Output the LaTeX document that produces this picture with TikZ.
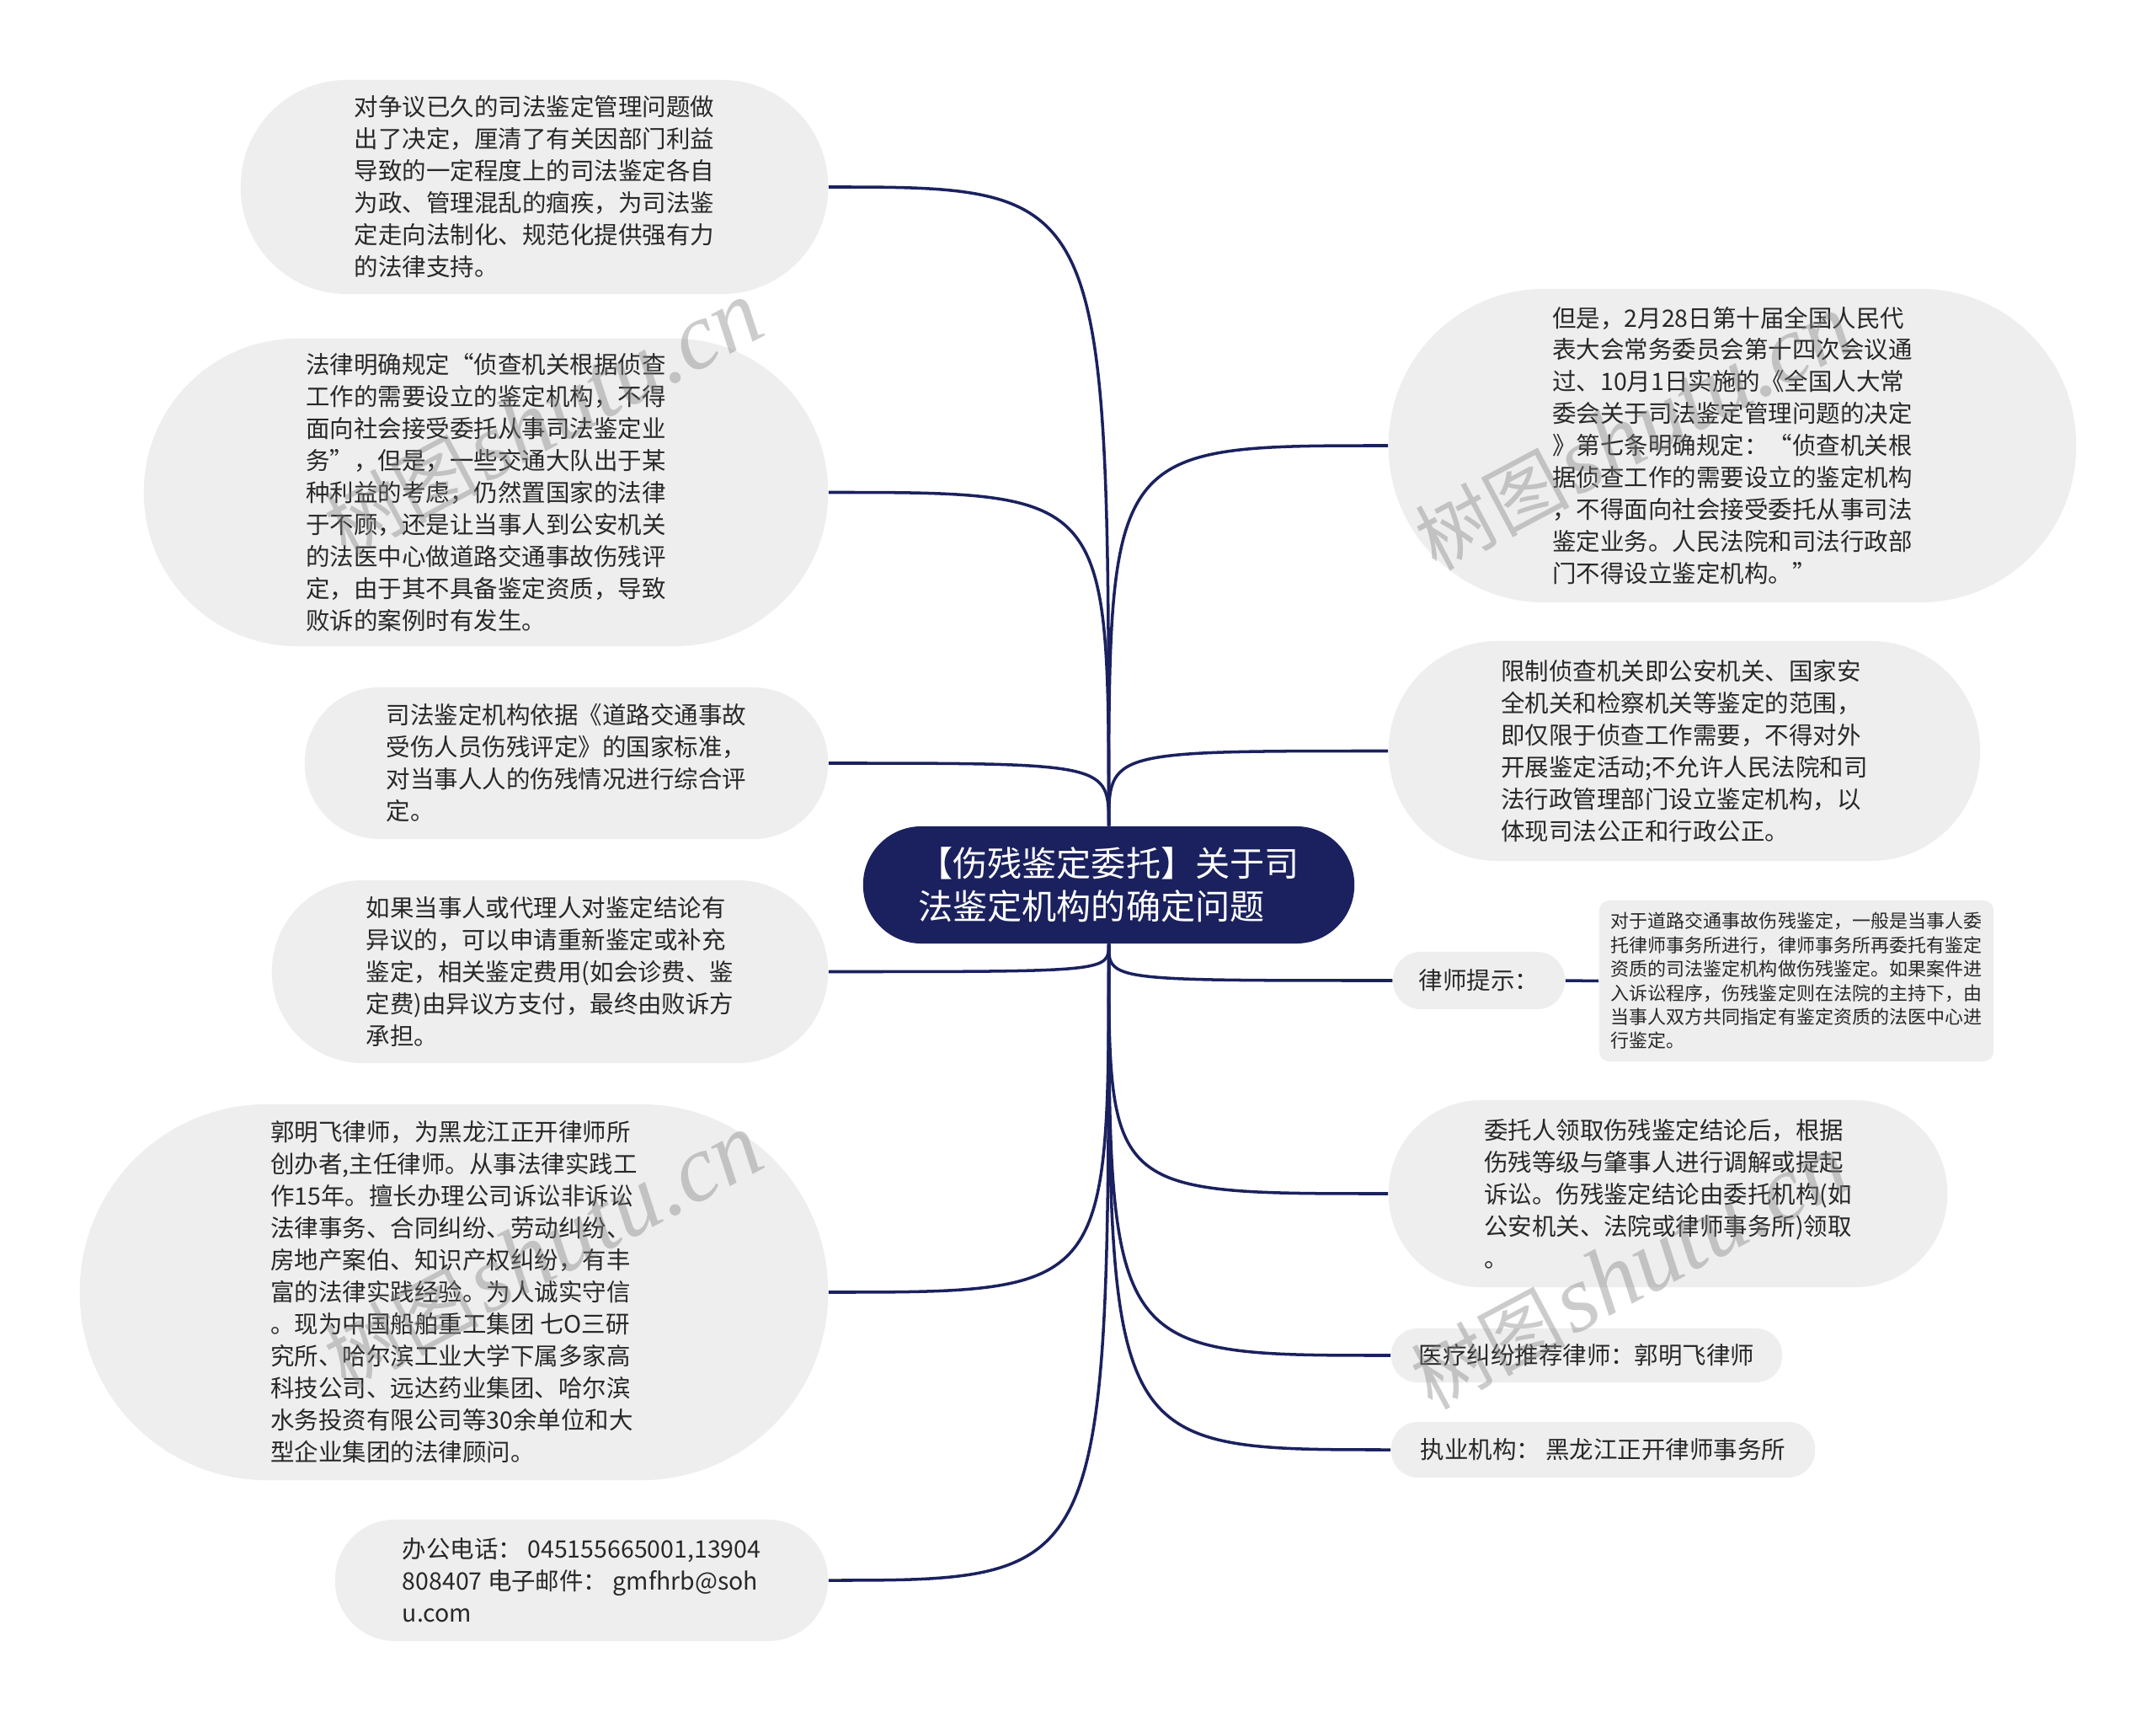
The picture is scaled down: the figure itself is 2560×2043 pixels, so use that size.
\documentclass[tikz,border=0pt]{standalone}
\usepackage{fontspec}
\setmainfont{Noto Sans CJK SC}
\newfontfamily\wmfont{Liberation Serif}
\definecolor{navy}{RGB}{27,33,94}
\definecolor{nodegray}{RGB}{238,238,238}
\definecolor{txt}{RGB}{40,40,40}
\begin{document}
\begin{tikzpicture}[x=0.01cm,y=-0.01cm,
  bubble/.style={fill=nodegray, text=txt, inner sep=0pt, align=left,
    font=\fontsize{8.1pt}{10.8pt}\selectfont},
  rootnode/.style={fill=navy, text=white, inner sep=0pt, align=left,
    font=\fontsize{11.7pt}{14.5pt}\selectfont},
  tipnode/.style={fill=nodegray, text=txt, inner sep=0pt, align=left,
    rounded corners=0.12cm, font=\fontsize{6.26pt}{8.08pt}\selectfont},
  link/.style={draw=navy, line width=1pt},
  wmark/.style={text=black!50, opacity=0.4, rotate=28, inner sep=0pt}]
\useasboundingbox[fill=white] (0,0) rectangle (2560,2043);

% root
\node[rootnode, minimum width=5.83cm, minimum height=1.39cm, rounded corners=0.69cm] (root) at (1316.5,1050.5)
  {【伤残鉴定委托】关于司\\法鉴定机构的确定问题};

% left nodes
\node[bubble, minimum width=6.97cm, minimum height=2.54cm, rounded corners=1.26cm] (L1) at (634.5,222)
  {对争议已久的司法鉴定管理问题做\\出了决定，厘清了有关因部门利益\\导致的一定程度上的司法鉴定各自\\为政、管理混乱的痼疾，为司法鉴\\定走向法制化、规范化提供强有力\\的法律支持。};
\node[bubble, minimum width=8.12cm, minimum height=3.65cm, rounded corners=1.82cm] (L2) at (577,584.5)
  {法律明确规定“侦查机关根据侦查\\工作的需要设立的鉴定机构，不得\\面向社会接受委托从事司法鉴定业\\务”，但是，一些交通大队出于某\\种利益的考虑，仍然置国家的法律\\于不顾，还是让当事人到公安机关\\的法医中心做道路交通事故伤残评\\定，由于其不具备鉴定资质，导致\\败诉的案例时有发生。};
\node[bubble, minimum width=6.21cm, minimum height=1.80cm, rounded corners=0.89cm] (L3) at (672.5,906)
  {司法鉴定机构依据《道路交通事故\\受伤人员伤残评定》的国家标准，\\对当事人人的伤残情况进行综合评\\定。};
\node[bubble, minimum width=6.60cm, minimum height=2.17cm, rounded corners=1.08cm] (L4) at (653,1153.5)
  {如果当事人或代理人对鉴定结论有\\异议的，可以申请重新鉴定或补充\\鉴定，相关鉴定费用(如会诊费、鉴\\定费)由异议方支付，最终由败诉方\\承担。};
\node[bubble, minimum width=8.88cm, minimum height=4.46cm, rounded corners=2.22cm] (L5) at (539,1534)
  {郭明飞律师，为黑龙江正开律师所\\创办者,主任律师。从事法律实践工\\作15年。擅长办理公司诉讼非诉讼\\法律事务、合同纠纷、劳动纠纷、\\房地产案伯、知识产权纠纷，有丰\\富的法律实践经验。为人诚实守信\\。现为中国船舶重工集团 七O三研\\究所、哈尔滨工业大学下属多家高\\科技公司、远达药业集团、哈尔滨\\水务投资有限公司等30余单位和大\\型企业集团的法律顾问。};
\node[bubble, minimum width=5.85cm, minimum height=1.44cm, rounded corners=0.71cm] (L6) at (690.5,1876)
  {办公电话： 045155665001,13904\\808407 电子邮件： gmfhrb@soh\\u.com};

% right nodes
\node[bubble, minimum width=8.16cm, minimum height=3.72cm, rounded corners=1.85cm] (R1) at (2057,529)
  {但是，2月28日第十届全国人民代\\表大会常务委员会第十四次会议通\\过、10月1日实施的《全国人大常\\委会关于司法鉴定管理问题的决定\\》第七条明确规定：“侦查机关根\\据侦查工作的需要设立的鉴定机构\\，不得面向社会接受委托从事司法\\鉴定业务。人民法院和司法行政部\\门不得设立鉴定机构。”};
\node[bubble, minimum width=7.02cm, minimum height=2.61cm, rounded corners=1.30cm] (R2) at (2000,891.5)
  {限制侦查机关即公安机关、国家安\\全机关和检察机关等鉴定的范围，\\即仅限于侦查工作需要，不得对外\\开展鉴定活动;不允许人民法院和司\\法行政管理部门设立鉴定机构，以\\体现司法公正和行政公正。};
\node[bubble, minimum width=2.04cm, minimum height=0.68cm, rounded corners=0.33cm] (R3) at (1756,1164)
  {律师提示：};
\node[tipnode, minimum width=4.68cm, minimum height=1.91cm] (tip) at (2133,1164.5)
  {对于道路交通事故伤残鉴定，一般是当事人委\\托律师事务所进行，律师事务所再委托有鉴定\\资质的司法鉴定机构做伤残鉴定。如果案件进\\入诉讼程序，伤残鉴定则在法院的主持下，由\\当事人双方共同指定有鉴定资质的法医中心进\\行鉴定。};
\node[bubble, minimum width=6.63cm, minimum height=2.22cm, rounded corners=1.10cm] (R4) at (1980.5,1417)
  {委托人领取伤残鉴定结论后，根据\\伤残等级与肇事人进行调解或提起\\诉讼。伤残鉴定结论由委托机构(如\\公安机关、法院或律师事务所)领取\\。};
\node[bubble, minimum width=4.64cm, minimum height=0.64cm, rounded corners=0.31cm] (R5) at (1884,1609)
  {医疗纠纷推荐律师：郭明飞律师};
\node[bubble, minimum width=5.03cm, minimum height=0.66cm, rounded corners=0.32cm] (R6) at (1903.5,1721)
  {执业机构： 黑龙江正开律师事务所};

% connectors
\foreach \n in {L1,L2,L3}
  \draw[link] (root.north) .. controls (root.north |- \n.east) .. (\n.east);
\foreach \n in {R1,R2}
  \draw[link] (root.north) .. controls (root.north |- \n.west) .. (\n.west);
\foreach \n in {L4,L5,L6}
  \draw[link] (root.south) .. controls (root.south |- \n.east) .. (\n.east);
\foreach \n in {R3,R4,R5,R6}
  \draw[link] (root.south) .. controls (root.south |- \n.west) .. (\n.west);
\draw[link] (R3.east) -- (tip.west);

% watermarks
\node[wmark] (wm1) at (645,498) {{\fontsize{26pt}{26pt}\selectfont 树图} {\wmfont\itshape\fontsize{32pt}{32pt}\selectfont shutu.cn}};
\node[wmark] (wm2) at (1940,514) {{\fontsize{26pt}{26pt}\selectfont 树图} {\wmfont\itshape\fontsize{32pt}{32pt}\selectfont shutu.cn}};
\node[wmark] (wm3) at (645,1486) {{\fontsize{26pt}{26pt}\selectfont 树图} {\wmfont\itshape\fontsize{32pt}{32pt}\selectfont shutu.cn}};
\node[wmark] (wm4) at (1935,1510) {{\fontsize{26pt}{26pt}\selectfont 树图} {\wmfont\itshape\fontsize{32pt}{32pt}\selectfont shutu.cn}};
\end{tikzpicture}
\end{document}
